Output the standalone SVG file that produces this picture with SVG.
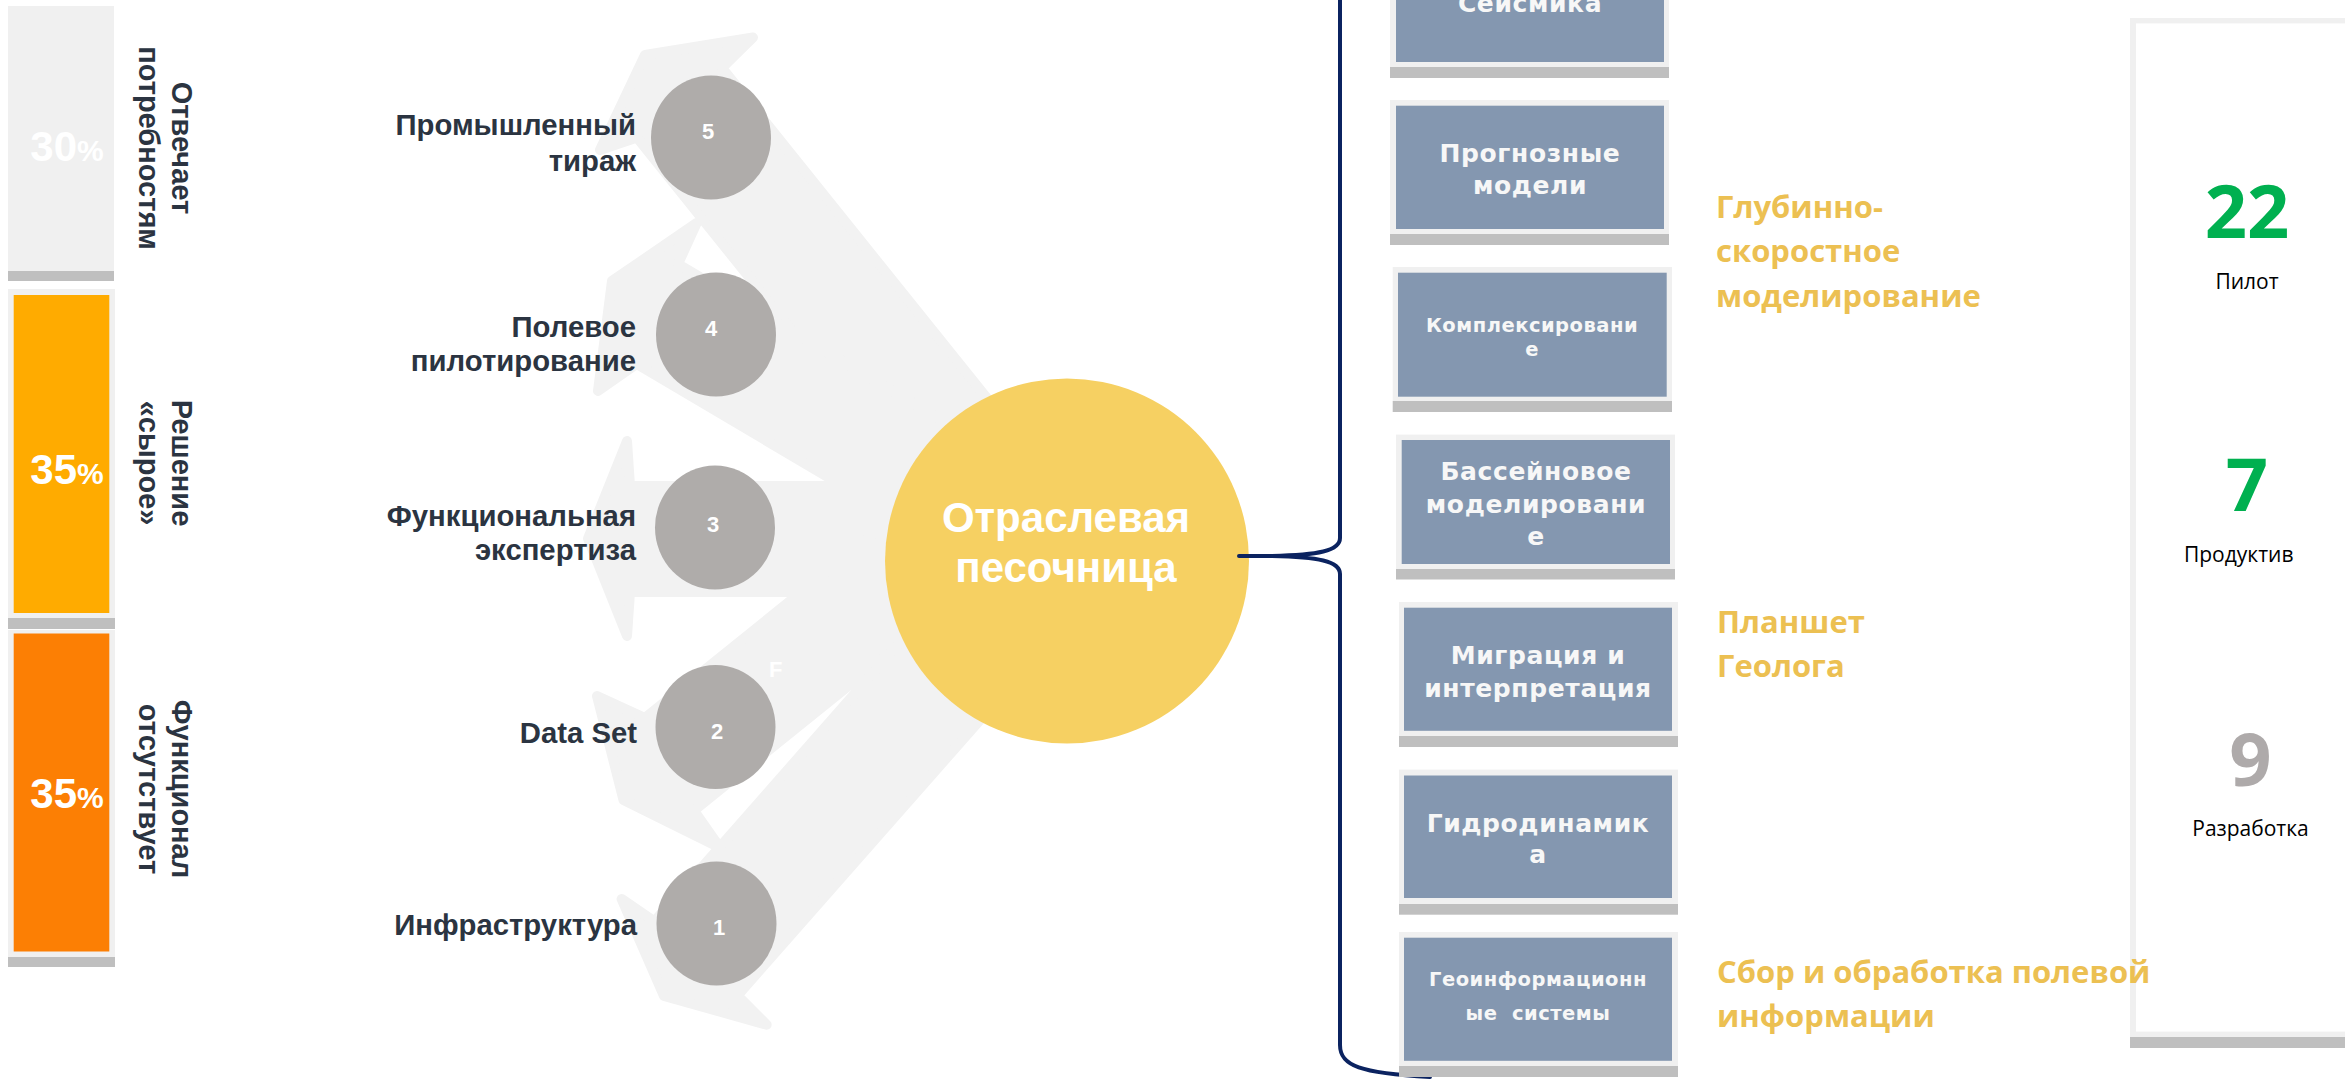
<svg xmlns="http://www.w3.org/2000/svg" width="2345" height="1079" viewBox="0 0 2345 1079">
<style>
.lbl{font-family:"Liberation Sans",Arial,sans-serif;font-weight:bold;fill:#2b3441;font-size:29.3px}
.vl{font-family:"Liberation Sans",Arial,sans-serif;font-weight:bold;fill:#2b3441;font-size:29px;text-anchor:middle}
.pct{font-family:"Liberation Sans",Arial,sans-serif;font-weight:bold;fill:#ffffff;font-size:42px;text-anchor:middle}
.num{font-family:"Liberation Sans",Arial,sans-serif;font-weight:bold;fill:#ffffff;font-size:22px;text-anchor:middle}
.circ{fill:#afacaa}
.arrow{fill:#f2f2f2;stroke:#f2f2f2;stroke-width:10;stroke-linejoin:round}
.bo{fill:#f0f0f0}
.bi{fill:#8497b0}
.st{fill:#bfbfbf}
.bt{font-family:"DejaVu Sans",Verdana,sans-serif;font-weight:bold;fill:#f7f7f7;text-anchor:middle;font-size:25px;letter-spacing:0.6px}
.bts{font-size:19.5px;letter-spacing:0.5px}
.yl{font-family:"Open Sans",sans-serif;font-weight:bold;fill:#ecc052;font-size:31px}
.big{font-family:"Open Sans",sans-serif;font-weight:bold;font-size:74px;text-anchor:middle}
.cap{font-family:"Open Sans",sans-serif;fill:#000000;font-size:21px;text-anchor:middle}
.brace{fill:none;stroke:#0b2360;stroke-width:4;stroke-linecap:round}
</style>

<!-- left bars -->
<g id="bar-needs">
  <rect class="bo" x="8" y="6" width="106" height="265"/>
  <rect class="st" x="8" y="271" width="106" height="10"/>
  <text class="pct" x="67" y="161">30<tspan font-size="30">%</tspan></text>
  <g transform="translate(172,148) rotate(90)">
    <text class="vl" x="0" y="0">Отвечает</text>
    <text class="vl" x="0" y="33">потребностям</text>
  </g>
</g>
<g id="bar-raw">
  <rect class="bo" x="8" y="289" width="107" height="329"/>
  <rect x="13.7" y="295" width="95.6" height="318" fill="#ffab00"/>
  <rect class="st" x="8" y="618" width="107" height="11"/>
  <text class="pct" x="67" y="484">35<tspan font-size="30">%</tspan></text>
  <g transform="translate(172,463) rotate(90)">
    <text class="vl" x="0" y="0">Решение</text>
    <text class="vl" x="0" y="33">«сырое»</text>
  </g>
</g>
<g id="bar-missing">
  <rect class="bo" x="8" y="630" width="107" height="327"/>
  <rect x="13.7" y="633.5" width="95.6" height="318" fill="#fc7f04"/>
  <rect class="st" x="8" y="957" width="107" height="10"/>
  <text class="pct" x="67" y="808">35<tspan font-size="30">%</tspan></text>
  <g transform="translate(172,789) rotate(90)">
    <text class="vl" x="0" y="0">Функционал</text>
    <text class="vl" x="0" y="33">отсутствует</text>
  </g>
</g>

<!-- background arrows -->
<g id="arrows">
  <polygon class="arrow" points="645,55 753,37.5 722,68 1047.5,473.6 962.5,543 637,137.5 600,150"/>
  <polygon class="arrow" points="612,281 696.7,223 678,264 1039.6,477.8 998.3,577.8 636.7,364 598,391"/>
  <polygon class="arrow" points="588,538.5 627,441 630,486 1050,486 1050,592 630,592 627,636"/>
  <polygon class="arrow" points="623.5,800 597,696 645,718 956.6,466.8 1005.6,559.3 694,810.5 720,847.7"/>
  <polygon class="arrow" points="664,996 621.6,899 654.4,921.3 971.2,561.3 1054.4,635.5 737.6,995.5 766.7,1024.7"/>
</g>
<text x="769" y="677" font-family="Liberation Sans, Arial, sans-serif" font-weight="bold" font-size="22" fill="#ffffff">F</text>

<!-- stages -->
<g id="stage5">
  <ellipse class="circ" cx="711" cy="137.5" rx="60" ry="62"/>
  <text class="num" x="708" y="139">5</text>
  <text class="lbl" x="636" y="135" text-anchor="end">Промышленный</text>
  <text class="lbl" x="636" y="171" text-anchor="end">тираж</text>
</g>
<g id="stage4">
  <ellipse class="circ" cx="716" cy="334.5" rx="60" ry="62"/>
  <text class="num" x="711" y="336">4</text>
  <text class="lbl" x="636" y="336.5" text-anchor="end">Полевое</text>
  <text class="lbl" x="636" y="371" text-anchor="end">пилотирование</text>
</g>
<g id="stage3">
  <ellipse class="circ" cx="715" cy="527.5" rx="60" ry="62"/>
  <text class="num" x="713" y="532">3</text>
  <text class="lbl" x="636" y="526" text-anchor="end">Функциональная</text>
  <text class="lbl" x="636" y="560" text-anchor="end">экспертиза</text>
</g>
<g id="stage2">
  <ellipse class="circ" cx="715.5" cy="727" rx="60" ry="62"/>
  <text class="num" x="717" y="739">2</text>
  <text class="lbl" x="637" y="743" text-anchor="end">Data Set</text>
</g>
<g id="stage1">
  <ellipse class="circ" cx="716.5" cy="923.5" rx="60" ry="62"/>
  <text class="num" x="719" y="935">1</text>
  <text class="lbl" x="637" y="935" text-anchor="end">Инфраструктура</text>
</g>

<!-- centre -->
<g id="sandbox">
  <ellipse cx="1067" cy="561" rx="182" ry="182.5" fill="#f6d062"/>
  <text x="1066" y="531.7" text-anchor="middle" font-family="Liberation Sans, Arial, sans-serif" font-weight="bold" font-size="42" fill="#ffffff">Отраслевая</text>
  <text x="1066" y="581.7" text-anchor="middle" font-family="Liberation Sans, Arial, sans-serif" font-weight="bold" font-size="42" fill="#ffffff">песочница</text>
</g>

<!-- connectors -->
<g id="connectors">
  <path class="brace" d="M1239 556 L1272 556 C1318 555 1340 551 1340 538 L1340 -10"/>
  <path class="brace" d="M1272 556 C1318 557 1340 561 1340 574 L1340 1045 C1340 1066 1360 1073 1430 1077"/>
</g>

<!-- right boxes -->
<g id="box-seismic">
  <rect class="bo" x="1390" y="-60" width="279" height="127"/>
  <rect class="bi" x="1396" y="-55" width="268" height="117"/>
  <rect class="st" x="1390" y="67" width="279" height="11"/>
  <text class="bt" x="1530" y="12">Сейсмика</text>
</g>
<g id="box-forecast">
  <rect class="bo" x="1390" y="100" width="279" height="134"/>
  <rect class="bi" x="1396" y="105.7" width="268" height="123.3"/>
  <rect class="st" x="1390" y="234" width="279" height="11"/>
  <text class="bt" x="1530" y="162">Прогнозные</text>
  <text class="bt" x="1530" y="193.5">модели</text>
</g>
<g id="box-complex">
  <rect class="bo" x="1392.7" y="267" width="279.3" height="134"/>
  <rect class="bi" x="1398" y="272.7" width="268.7" height="124"/>
  <rect class="st" x="1392.7" y="401" width="279.3" height="11"/>
  <text class="bt bts" x="1532" y="332">Комплексировани</text>
  <text class="bt bts" x="1532" y="356">е</text>
</g>
<g id="box-basin">
  <rect class="bo" x="1396" y="434.6" width="279" height="134.4"/>
  <rect class="bi" x="1401.7" y="440" width="268.3" height="124"/>
  <rect class="st" x="1396" y="569" width="279" height="10.5"/>
  <text class="bt" x="1536" y="480">Бассейновое</text>
  <text class="bt" x="1536" y="513">моделировани</text>
  <text class="bt" x="1536" y="545">е</text>
</g>
<g id="box-migration">
  <rect class="bo" x="1399" y="602" width="279" height="134"/>
  <rect class="bi" x="1404" y="607.7" width="268" height="123.1"/>
  <rect class="st" x="1399" y="736" width="279" height="11"/>
  <text class="bt" x="1538" y="664">Миграция и</text>
  <text class="bt" x="1538" y="696.5">интерпретация</text>
</g>
<g id="box-hydro">
  <rect class="bo" x="1399" y="769.6" width="279" height="134.4"/>
  <rect class="bi" x="1404" y="775.5" width="268" height="122.5"/>
  <rect class="st" x="1399" y="904" width="279" height="10.7"/>
  <text class="bt" x="1538" y="832">Гидродинамик</text>
  <text class="bt" x="1538" y="863">а</text>
</g>
<g id="box-gis">
  <rect class="bo" x="1399" y="932" width="279" height="134"/>
  <rect class="bi" x="1404" y="937.7" width="268" height="123.1"/>
  <rect class="st" x="1399" y="1066" width="279" height="11"/>
  <text class="bt bts" x="1538" y="986">Геоинформационн</text>
  <text class="bt bts" x="1538" y="1020" style="white-space:pre">ые  системы</text>
</g>

<!-- right panel -->
<g id="stats">
  <rect class="bo" x="2130" y="18" width="240" height="1019"/>
  <rect x="2136" y="23.4" width="234" height="1008.2" fill="#ffffff"/>
  <rect class="st" x="2130" y="1037" width="240" height="11"/>
  <text class="big" x="2247" y="237.6" fill="#00b050">22</text>
  <text class="cap" x="2247" y="288.6">Пилот</text>
  <text class="big" x="2247" y="511" fill="#00b050">7</text>
  <text class="cap" x="2238.7" y="562.3">Продуктив</text>
  <text class="big" x="2250.5" y="785.8" fill="#aeaaaa">9</text>
  <text class="cap" x="2250.5" y="835.6">Разработка</text>
</g>

<!-- yellow captions -->
<g id="cap-depth">
  <text class="yl" x="1716" y="218">Глубинно-</text>
  <text class="yl" x="1716" y="262">скоростное</text>
  <text class="yl" x="1716" y="306.5">моделирование</text>
</g>
<g id="cap-tablet">
  <text class="yl" x="1717" y="632.5">Планшет</text>
  <text class="yl" x="1717" y="677">Геолога</text>
</g>
<g id="cap-field">
  <text class="yl" x="1717" y="982.5">Сбор и обработка полевой</text>
  <text class="yl" x="1717" y="1026.5">информации</text>
</g>
</svg>
